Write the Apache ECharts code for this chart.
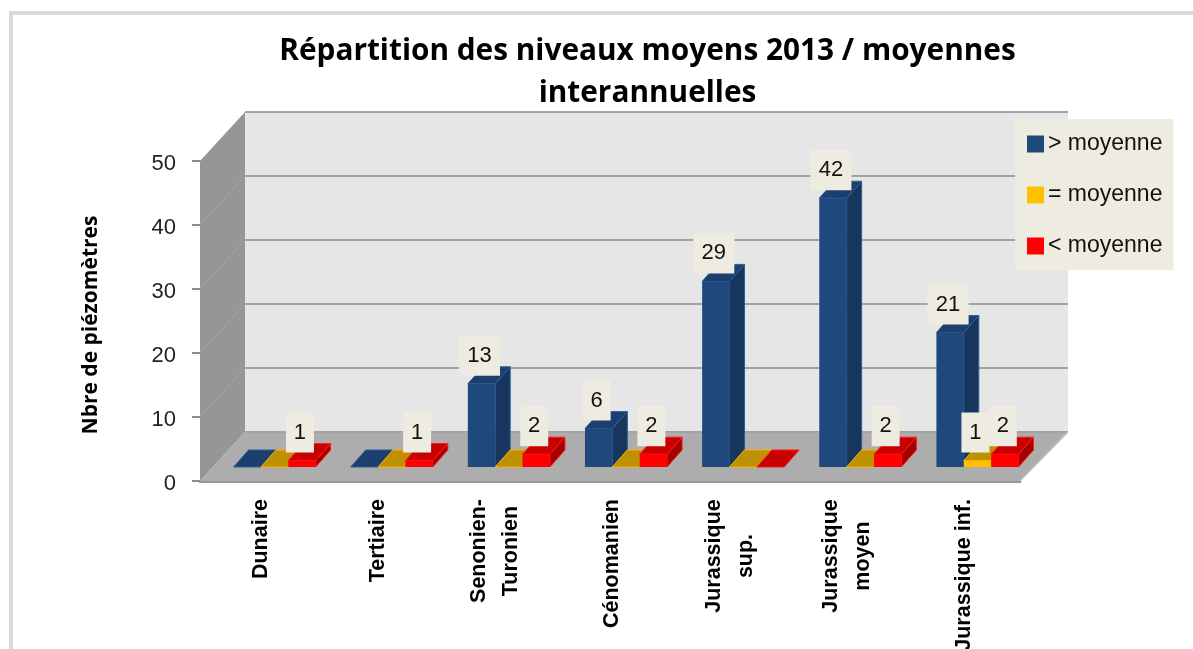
<!DOCTYPE html>
<html><head><meta charset="utf-8">
<style>html,body{margin:0;padding:0;background:#fff}#c{width:1193px;height:649px}</style>
<script src="https://cdn.jsdelivr.net/npm/echarts@6/dist/echarts.min.js"></script>
</head><body><div id="c"></div>
<script>
const categories = ['Dunaire','Tertiaire','Senonien-\nTuronien','Cénomanien','Jurassique\nsup.','Jurassique\nmoyen','Jurassique inf.'];
const superieur = [0,0,13,6,29,42,21];
const egal = [0,0,0,0,0,0,1];
const inferieur = [1,1,2,2,0,2,2];
const yTicks = [0,10,20,30,40,50];

const WALL_DX = 45, WALL_DX_R = 48, WALL_DY = 49;   // depth of the 3D box, px
const BAR_DX = 15, BAR_DY = 17;     // depth of a bar, px
const BAR_SHIFT_X = 14, BAR_SHIFT_Y = 14; // bars stand inside the floor
const BAR_FRAC = 0.2335, BAR_START = 0.167;

const pal = [
  {front:'#1F497D', side:'#17365D', top:'#1B3F6E', edge:'#2F5C94'},
  {front:'#FFC000', side:'#BF9000', top:'#BF9000', edge:'#FFB000'},
  {front:'#FF0000', side:'#A50000', top:'#C80000', edge:'#FF1A1A'}
];

function poly(points, fill, z2, stroke, lw){
  return {type:'polygon', z2:z2||0, shape:{points},
    style:{fill, stroke:stroke||null, lineWidth:lw||0}};
}
function line(a,b,color,w,z2){
  return {type:'line', z2:z2||1, shape:{x1:a[0],y1:a[1],x2:b[0],y2:b[1]},
    style:{stroke:color,lineWidth:w}};
}

function renderWalls(params, api){
  const n = categories.length;
  const top = yTicks[yTicks.length-1];
  const fl = api.coord([0,0]), w = api.size([1,0])[0];
  const x0 = fl[0]-w/2, x1 = x0+w*n, y0 = fl[1];
  const yT = api.coord([0,top])[1];
  const ch = [
    poly([[x0+WALL_DX,yT-WALL_DY],[x1+WALL_DX_R,yT-WALL_DY],[x1+WALL_DX_R,y0-WALL_DY],[x0+WALL_DX,y0-WALL_DY]],'#E6E6E6'),
    poly([[x0,yT],[x0+WALL_DX,yT-WALL_DY],[x0+WALL_DX,y0-WALL_DY],[x0,y0]],'#969696'),
    poly([[x0,y0],[x0+WALL_DX,y0-WALL_DY],[x1+WALL_DX_R,y0-WALL_DY],[x1,y0]],'#ADADAD')
  ];
  yTicks.forEach(t=>{
    const y = api.coord([0,t])[1];
    ch.push(line([x0+WALL_DX,y-WALL_DY],[x1+WALL_DX_R,y-WALL_DY],'#A3A3A3',2));
    if(t>0 && t<top) ch.push(line([x0,y],[x0+WALL_DX,y-WALL_DY],'#A6A6A6',1));
  });
  ch.push(line([x1,y0],[x1+WALL_DX_R,y0-WALL_DY],'#C4C4C4',1.5));
  return {type:'group', children:ch};
}

function barRenderer(si){
  return function(params, api){
    const i = api.value(0), v = api.value(1);
    const c = pal[si];
    const w = api.size([1,0])[0];
    const center = api.coord([i,0]);
    const yv = api.coord([i,v])[1] - BAR_SHIFT_Y;
    const yb = center[1] - BAR_SHIFT_Y;
    const bw = w*BAR_FRAC;
    const xl = center[0]-w/2 + w*BAR_START + BAR_SHIFT_X + bw*si;
    const xr = xl+bw;
    const base = si*2;
    const ch = [];
    if(v>0){
      ch.push(poly([[xr,yv],[xr+BAR_DX,yv-BAR_DY],[xr+BAR_DX,yb-BAR_DY],[xr,yb]],c.side,base,c.edge,1));
    }
    ch.push(poly([[xl,yv],[xl+BAR_DX,yv-BAR_DY],[xr+BAR_DX,yv-BAR_DY],[xr,yv]],c.top,base,c.edge,1));
    if(v>0){
      ch.push({type:'rect',z2:base+1,shape:{x:xl,y:yv,width:bw,height:yb-yv},style:{fill:c.front}});
      const s = String(v);
      const lx = (xl+xr)/2 - 2, ly = yv-28;
      const bwid = s.length>1 ? 41 : 28;
      ch.push({type:'rect',z2:100+si*2,shape:{x:lx-bwid/2,y:ly-20,width:bwid,height:40},style:{fill:'#EEEBE0'}});
      ch.push({type:'text',z2:101+si*2,x:lx,y:ly,style:{text:s,fill:'#111',font:'22px "Liberation Sans"',align:'center',verticalAlign:'middle'}});
    }
    return {type:'group',children:ch};
  };
}

const seriesDefs = [
  {name:'> moyenne', data:superieur},
  {name:'= moyenne', data:egal},
  {name:'< moyenne', data:inferieur}
];

const labelBase = {fontFamily:'"Liberation Sans"',fontWeight:'bold',fontSize:21.5,color:'#000',lineHeight:32};
const labelRich = {
  w105:Object.assign({},labelBase,{width:104,align:'center'}),
  w112:Object.assign({},labelBase,{width:114,align:'center'})
};

const option = {
  animation:false,
  backgroundColor:'#fff',
  graphic:[
    {type:'rect',z:-1,shape:{x:9,y:11,width:4,height:638},style:{fill:'#D9D9D9'},silent:true},
    {type:'rect',z:-1,shape:{x:9,y:11,width:1184,height:4},style:{fill:'#D9D9D9'},silent:true}
  ],
  title:{text:'Répartition des niveaux moyens 2013 / moyennes\ninterannuelles',
    left:642.5,top:26,textAlign:'center',
    textStyle:{fontFamily:'"Open Sans"',fontWeight:'700',fontSize:29.8,color:'#000',lineHeight:42}},
  legend:{
    orient:'vertical',left:1015,top:119,
    backgroundColor:'#EEEBE0',padding:[13.5,11,12.5,12],
    itemWidth:17,itemHeight:17,itemGap:28,itemStyle:{borderWidth:0},
    textStyle:{fontFamily:'"Liberation Sans"',fontSize:23,color:'#111',padding:[0,0,0,-1]},
    data:seriesDefs.map((s,i)=>({name:s.name,icon:'rect',itemStyle:{color:pal[i].front}}))
  },
  grid:{left:200,right:173,top:161,bottom:168,containLabel:false,outerBoundsMode:'none'},
  xAxis:{type:'category',data:categories,
    axisLine:{lineStyle:{color:'#999',width:3}},
    axisTick:{length:8,lineStyle:{color:'#A6A6A6',width:2}},
    axisLabel:{interval:0,rotate:90,margin:18,padding:[5,0,0,0],
      fontFamily:'"Liberation Sans"',fontWeight:'bold',fontSize:21.5,color:'#000',lineHeight:32,
      formatter:(v)=>{
        if(v.indexOf('Senonien')===0) return v.split('\n').map(l=>'{w105|'+l+'}').join('\n');
        if(v.indexOf('\n')>0) return v.split('\n').map(l=>'{w112|'+l+'}').join('\n');
        return v;
      },rich:labelRich}
  },
  yAxis:{type:'value',min:0,max:50,interval:10,
    name:'Nbre de piézomètres',nameLocation:'middle',nameGap:98,nameRotate:90,
    nameTextStyle:{fontFamily:'"Open Sans"',fontWeight:'bold',fontSize:21,color:'#000',padding:[0,8,0,0]},
    axisLine:{show:true,lineStyle:{color:'#999',width:1}},
    axisTick:{show:true,length:8,lineStyle:{color:'#8C8C8C',width:2}},
    axisLabel:{margin:24,fontFamily:'"Liberation Sans"',fontSize:22,color:'#222',
      formatter:'{v|{value}}',
      rich:{v:{fontFamily:'"Liberation Sans"',fontSize:22,color:'#222',padding:[6,0,0,0]}}},
    splitLine:{show:false}
  },
  series:[
    {type:'custom',name:'walls',z:1,silent:true,renderItem:renderWalls,data:[[0,0]],
     encode:{x:0,y:1},clip:false,legendHoverLink:false},
    ...seriesDefs.map((s,si)=>({
      type:'custom',name:s.name,z:2,silent:true,clip:false,
      itemStyle:{color:pal[si].front},
      renderItem:barRenderer(si),
      encode:{x:0,y:1},
      data:s.data.map((v,i)=>[i,v])
    }))
  ]
};
const chart = echarts.init(document.getElementById('c'),null,{renderer:'canvas'});
chart.setOption(option);
</script></body></html>
